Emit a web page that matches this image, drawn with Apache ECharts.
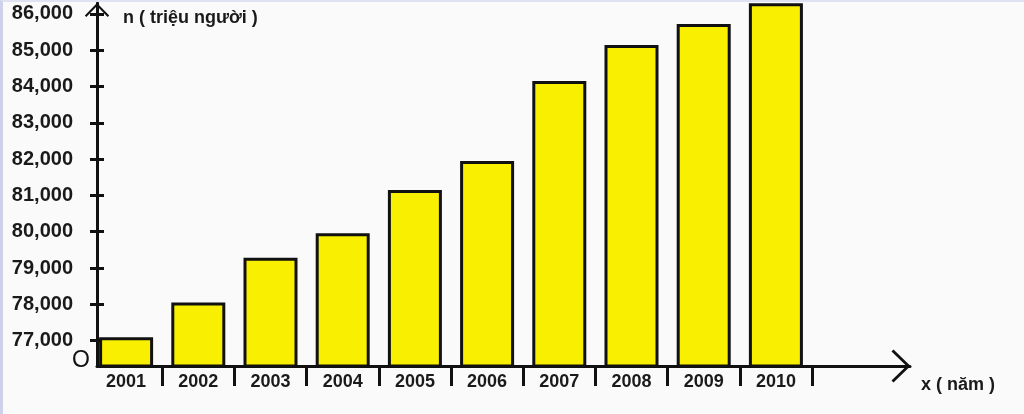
<!DOCTYPE html>
<html>
<head>
<meta charset="utf-8">
<script src="https://cdn.jsdelivr.net/npm/echarts@6/dist/echarts.min.js"></script>
<style>
  html, body { margin: 0; padding: 0; background: #f9faf9; }
  #chart { width: 1024px; height: 414px; }
  #edge { position: absolute; left: 0; top: 0; width: 1021px; height: 412px;
          border-left: 3px solid #cdd1ea; border-top: 2px solid #dfe2f0; pointer-events: none; }
</style>
</head>
<body>
<div id="chart"></div>
<div id="edge"></div>
<script>
// ---- data ----
const years = ['2001', '2002', '2003', '2004', '2005', '2006', '2007', '2008', '2009', '2010'];
const population = [77090, 78050, 79280, 79960, 81150, 81950, 84150, 85140, 85720, 86290];
const yTickValues = [77000, 78000, 79000, 80000, 81000, 82000, 83000, 84000, 85000, 86000];
const yAxisTitle = 'n ( triệu người )';
const xAxisTitle = 'x ( năm )';
const originLabel = 'O';

const yMin = 76300, yMax = 86300;
const chevron = 'path://M0,17 L16.5,0 L33,17 L31,19 L16.5,4 L2,19 Z';
const font = '"Liberation Sans", Arial, sans-serif';

const chart = echarts.init(document.getElementById('chart'));
chart.setOption({
  backgroundColor: 'transparent',
  animation: false,
  title: [
    { text: yAxisTitle, left: 118, top: 4, textStyle: { fontFamily: font, fontSize: 18, fontWeight: 'bold', color: '#1a1a1a' } },
    { text: xAxisTitle, left: 916, top: 371, textStyle: { fontFamily: font, fontSize: 18, fontWeight: 'bold', color: '#1a1a1a' } },
    { text: originLabel, left: 67, top: 344, textStyle: { fontFamily: font, fontSize: 23, fontWeight: 'normal', color: '#111' } }
  ],
  grid: [
    { left: 90, top: 3, width: 722, height: 363 },
    { left: 97, top: 3, width: 813, height: 363 }
  ],
  xAxis: [
    {
      type: 'category', gridIndex: 0, data: years,
      axisLine: { show: false },
      axisTick: { show: true, length: 20, interval: (i) => i !== 0, lineStyle: { color: '#111', width: 3 } },
      axisLabel: { margin: 7, fontFamily: font, fontSize: 18, fontWeight: 'bold', color: '#1a1a1a' },
      splitLine: { show: false }
    },
    {
      type: 'value', gridIndex: 1, min: 0, max: 1, position: 'bottom',
      axisLine: { show: true, onZero: false, symbol: ['none', chevron], symbolSize: [33, 19], symbolOffset: [0, -9],
                  lineStyle: { color: '#111', width: 3 } },
      axisTick: { show: false }, axisLabel: { show: false }, splitLine: { show: false }
    }
  ],
  yAxis: [
    {
      type: 'value', gridIndex: 0, min: yMin, max: yMax, show: false
    },
    {
      type: 'value', gridIndex: 1, min: yMin, max: yMax, position: 'left',
      axisLine: { show: true, onZero: false, symbol: ['none', chevron], symbolSize: [27, 14], symbolOffset: [0, -7],
                  lineStyle: { color: '#111', width: 3 } },
      axisTick: { show: true, customValues: yTickValues, length: 7, lineStyle: { color: '#111', width: 3 } },
      axisLabel: {
        customValues: yTickValues, margin: 24,
        fontFamily: font, fontSize: 20, fontWeight: 'bold', color: '#1a1a1a',
        formatter: v => v.toLocaleString('en-US')
      },
      splitLine: { show: false }
    },
    {
      type: 'value', gridIndex: 1, min: yMin, max: yMax, position: 'left', offset: 0,
      axisLine: { show: false, onZero: false },
      axisTick: { show: true, inside: true, customValues: yTickValues, length: 7, lineStyle: { color: '#111', width: 3 } },
      axisLabel: { show: false },
      splitLine: { show: false }
    }
  ],
  series: [
    {
      type: 'bar', xAxisIndex: 0, yAxisIndex: 0,
      data: population, barWidth: 54,
      itemStyle: { color: '#f8f000', borderColor: '#111', borderWidth: 3 }
    }
  ]
});
</script>
</body>
</html>
